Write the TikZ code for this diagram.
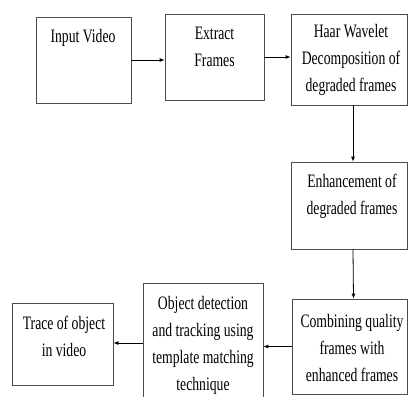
\documentclass[tikz,border=0pt]{standalone}
\usepackage{fontspec}
\newfontfamily\boxfont[FakeStretch=0.72]{Liberation Serif}
\usetikzlibrary{arrows.meta}
\begin{document}
\begin{tikzpicture}[x=1pt,y=-1pt,
    box/.style={draw=black!70,line width=0.8pt,inner sep=0pt},
    txt/.style={align=center,inner sep=0pt,font=\boxfont\fontsize{19}{27}\selectfont},
    >={Latex[length=5pt,width=4pt]}]
    \useasboundingbox (0,0) rectangle (408,397);
    \node[box,minimum width=95pt,minimum height=86pt] (input) at (83.5,60) {};
    \node[box,minimum width=99pt,minimum height=86pt] (extract) at (214.5,57) {};
    \node[box,minimum width=116pt,minimum height=91pt] (haar) at (349,59.5) {};
    \node[box,minimum width=116pt,minimum height=87pt] (enhance) at (349,205.5) {};
    \node[box,minimum width=115pt,minimum height=95pt] (combine) at (349.5,346.5) {};
    \node[box,minimum width=120pt,minimum height=120pt] (detect) at (203,343) {};
    \node[box,minimum width=101pt,minimum height=82pt] (trace) at (62.5,344) {};
    \node[txt] (inputtxt) at (83,38) {Input Video};
    \node[txt] (extracttxt) at (214.5,47) {Extract\\Frames};
    \node[txt] (haartxt) at (351,60) {Haar Wavelet\\Decomposition of\\degraded frames};
    \node[txt] (enhancetxt) at (352,196) {Enhancement of\\degraded frames};
    \node[txt] (combinetxt) at (352,348) {Combining quality\\frames with\\enhanced frames};
    \node[txt] (detecttxt) at (203,345) {Object detection\\and tracking using\\template matching\\technique};
    \node[txt] (tracetxt) at (64,336) {Trace of object\\in video};
    \draw[->,line width=0.8pt] (input.east)--(input.east -| extract.west);
    \draw[->,line width=0.8pt] (extract.east)--(extract.east -| haar.west);
    \draw[->,line width=0.8pt] ([xshift=4pt]haar.south)--([xshift=4pt]enhance.north);
    \draw[->,line width=0.8pt] ([xshift=4pt]enhance.south)--([xshift=4pt]combine.north);
    \draw[->,line width=0.8pt] (combine.west)--(combine.west -| detect.east);
    \draw[->,line width=0.8pt] (detect.west)--(detect.west -| trace.east);
\end{tikzpicture}
\end{document}
